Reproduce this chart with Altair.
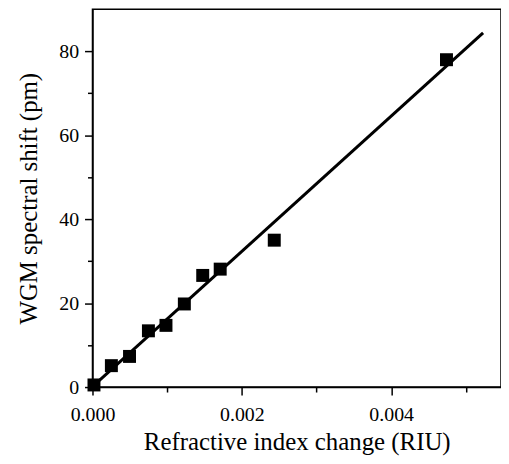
import altair as alt
import pandas as pd

# measured data points
ri_change = [0.00002, 0.000253, 0.000496, 0.000749, 0.000984, 0.00123, 0.001476, 0.00171, 0.002434, 0.00474]
wgm_shift = [0.5, 5.1, 7.3, 13.4, 14.7, 19.8, 26.6, 28.1, 35.0, 78.0]

# linear fit line end points
fit_x = [0.0, 0.00523]
fit_y = [0.1, 84.4]

x_ticks = [0.0, 0.001, 0.002, 0.003, 0.004, 0.005]
y_ticks = [0, 10, 20, 30, 40, 50, 60, 70, 80]

pts = pd.DataFrame({"x": ri_change, "y": wgm_shift})
fit = pd.DataFrame({"x": fit_x, "y": fit_y})

FONT = "Liberation Serif"

xscale = alt.Scale(domain=[0, 0.00547], nice=False, zero=False)
yscale = alt.Scale(domain=[0, 90], nice=False)

xaxis = alt.Axis(
    values=x_ticks,
    title="Refractive index change (RIU)",
    labelExpr="round(datum.value*1000) % 2 == 0 ? format(datum.value, '.3f') : ''",
    tickSize={"condition": {"test": "round(datum.value*1000) % 2 != 0", "value": 5}, "value": 8},
    grid=False,
    labelFlush=False,
)
yaxis = alt.Axis(
    values=y_ticks,
    title="WGM spectral shift (pm)",
    labelExpr="datum.value % 20 == 0 ? datum.label : ''",
    tickSize={"condition": {"test": "datum.value % 20 != 0", "value": 5}, "value": 8},
    grid=False,
    labelFlush=False,
)

line = alt.Chart(fit).mark_line(color="black", strokeWidth=3).encode(
    x=alt.X("x:Q", scale=xscale, axis=xaxis),
    y=alt.Y("y:Q", scale=yscale, axis=yaxis),
)
points = alt.Chart(pts).mark_point(shape="square", filled=True, color="black", opacity=1, size=170).encode(
    x="x:Q",
    y="y:Q",
)

chart = alt.layer(line, points).properties(
    width=411,
    height=380,
    autosize=alt.AutoSizeParams(type="none"),
    padding={"left": 85, "top": 0, "right": 0, "bottom": 68},
).configure_view(
    stroke="black", strokeWidth=1.5
).configure_axis(
    domainColor="black", domainWidth=1.5, tickColor="black", tickWidth=1.5,
    labelFont=FONT, labelFontSize=20, labelColor="black",
    titleFont=FONT, titleFontSize=25, titleColor="black", titleFontWeight="normal",
).configure_axisX(titlePadding=5, labelPadding=10).configure_axisY(titlePadding=17, labelPadding=6)

chart.save("out.html", embed_options={"renderer": "svg", "actions": False})
